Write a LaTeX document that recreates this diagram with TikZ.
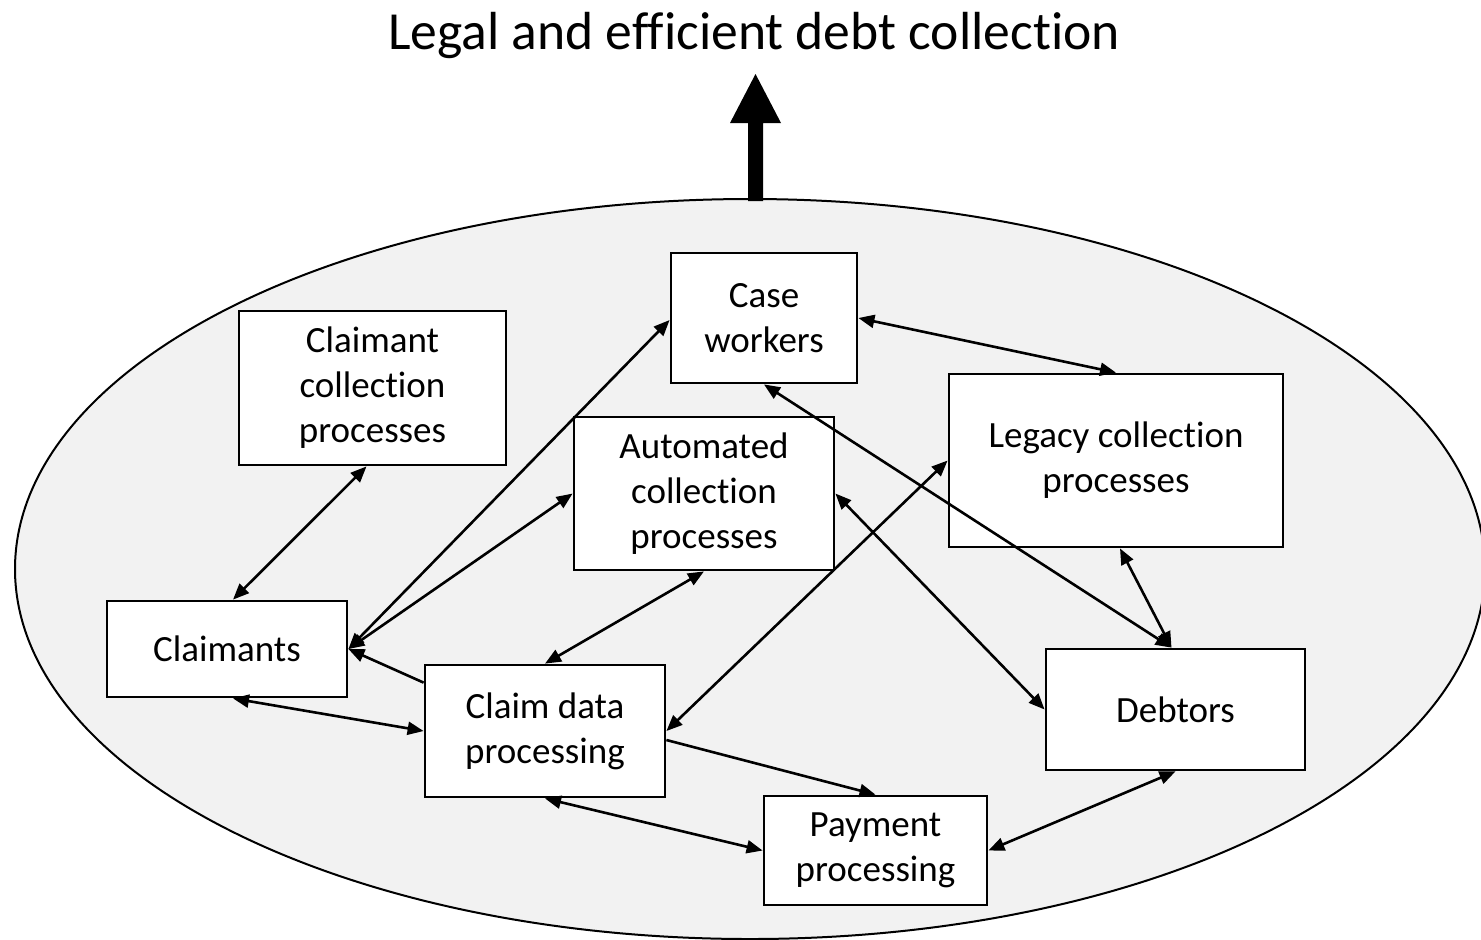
\documentclass[tikz,border=0pt]{standalone}
\usepackage{fontspec}
\setmainfont[Ligatures=NoCommon]{Carlito}
\usetikzlibrary{arrows.meta}
\begin{document}
\begin{tikzpicture}[x=0.5pt,y=-0.5pt,
  box/.style={draw=black, line width=1.4pt, fill=white, align=center, inner sep=0pt,
    font=\fontsize{18.5pt}{22.5pt}\selectfont},
  conn/.style={line width=1.3pt, {Triangle[length=8pt,width=6.5pt]}-{Triangle[length=8pt,width=6.5pt]}},
  oneway/.style={line width=1.3pt, -{Triangle[length=8pt,width=6.5pt]}}]
\useasboundingbox (0,0) rectangle (1481,939);
\fill[white] (0,0) rectangle (1481,939);
\draw[line width=1pt, fill={rgb,255:red,242;green,242;blue,242}] (750,569) ellipse [x radius=735, y radius=370];
\fill (748,201) -- (748,123) -- (730,123) -- (755.5,74) -- (781,123) -- (763,123) -- (763,201) -- cycle;
\node[font=\fontsize{26.8pt}{30pt}\selectfont] (title) at (754,35) {Legal and efficient debt collection};
\node[box, minimum width=93pt, minimum height=65pt] (cw) at (764,318) {Case\\workers};
\node[box, minimum width=133.5pt, minimum height=77pt] (cc) at (372.5,388) {Claimant\\collection\\processes};
\node[box, minimum width=130pt, minimum height=76.5pt] (au) at (704,493.5) {Automated\\collection\\processes};
\node[box, minimum width=167pt, minimum height=86.5pt] (lg) at (1116,460.5) {Legacy collection\\processes};
\node[box, minimum width=120pt, minimum height=48pt] (cl) at (227,649) {Claimants};
\node[box, minimum width=120pt, minimum height=66pt] (cd) at (545,731) {Claim data\\processing};
\node[box, minimum width=129.5pt, minimum height=60.5pt] (db) at (1175.5,709.5) {Debtors};
\node[box, minimum width=111.5pt, minimum height=54.5pt] (pay) at (875.5,850.5) {Payment\\processing};
\draw[conn] ([xshift=-3pt]cc.south) -- ([xshift=3pt]cl.north);
\draw[conn] (cl.east) -- ([yshift=-1pt]cw.west);
\draw[conn] (cl.east) -- (au.west);
\draw[oneway] ([yshift=-9.5pt]cd.north west) -- (cl.east);
\draw[conn] ([xshift=3pt]cl.south) -- (cd.west);
\draw[conn] (au.south) -- (cd.north);
\draw[conn] (cw.east) -- (lg.north);
\draw[conn] (cw.south) -- ([xshift=-2pt]db.north);
\draw[conn] ([xshift=2pt]lg.south) -- ([xshift=-2pt]db.north);
\draw[conn] (au.east) -- (db.west);
\draw[conn] (lg.west) -- (cd.east);
\draw[oneway] ([yshift=-4.5pt]cd.east) -- (pay.north);
\draw[conn] (cd.south) -- (pay.west);
\draw[conn] (pay.east) -- (db.south);
\end{tikzpicture}
\end{document}
